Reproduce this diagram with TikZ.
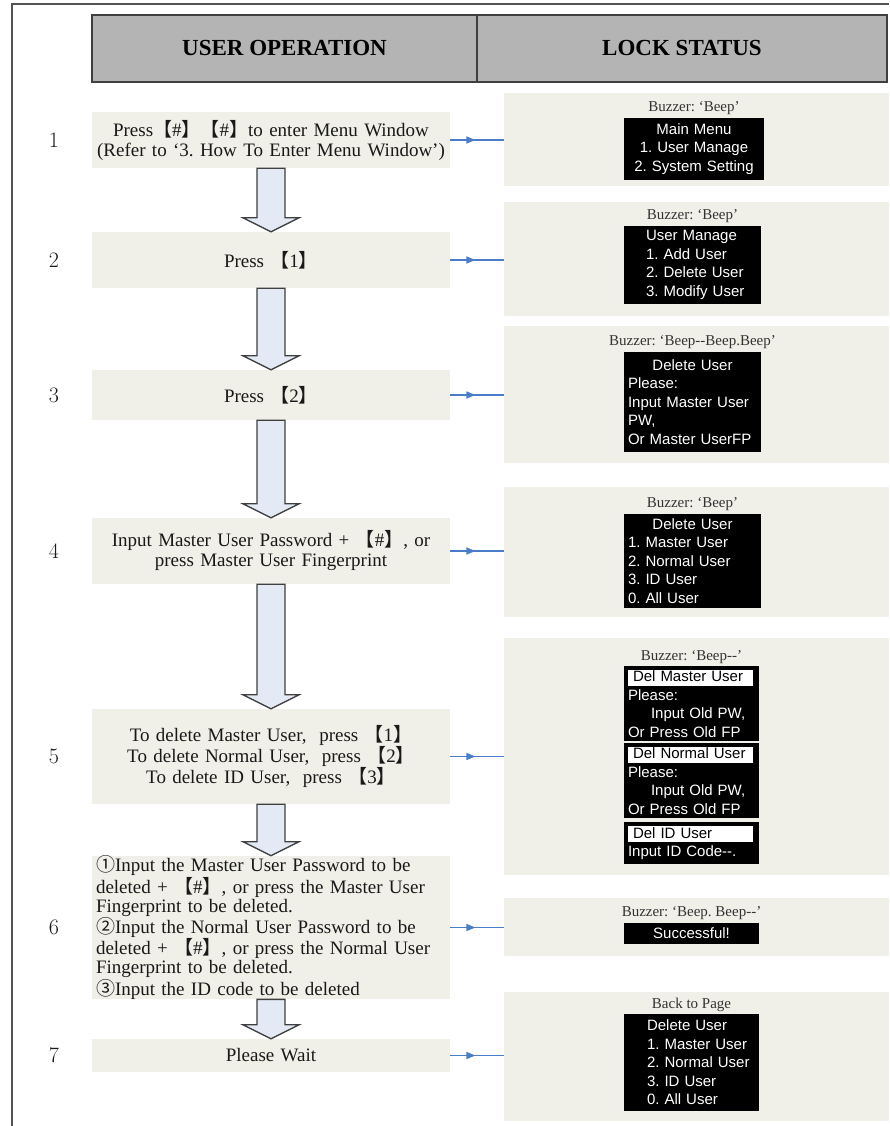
\documentclass[tikz,border=0pt]{standalone}
\usepackage{fontspec}
\usetikzlibrary{positioning,calc,arrows.meta,decorations.markings}
\newfontfamily\opfont{Liberation Serif}
\newfontfamily\lcdfont{Liberation Sans}
\newfontfamily\cjk{Noto Sans CJK SC}
\newcommand\lbk{{\cjk 【}}
\newcommand\rbk{{\cjk 】}}
\newcommand\lcdtitle[1]{{\setlength\fboxsep{0pt}\colorbox{white}{\makebox[125pt][l]{\color{black}\hspace*{5pt}#1\rule[-4pt]{0pt}{16pt}}}}}
\definecolor{panelfill}{HTML}{F0F0E8}
\definecolor{hdgray}{HTML}{B4B4B4}
\definecolor{edgegray}{HTML}{3F3F3F}
\definecolor{arrowfill}{HTML}{E3EAF6}
\definecolor{linkblue}{HTML}{4A7CC9}
\frenchspacing
\newcommand\flowarrow[2]{%
  \draw[bigarrow] ($(#1.south)+(-14,0)$) -- ($(#2.north)+(-14,-14)$)
    -- ($(#2.north)+(-28,-14)$) -- (#2.north) -- ($(#2.north)+(28,-14)$)
    -- ($(#2.north)+(14,-14)$) -- ($(#1.south)+(14,0)$) -- cycle;}
\tikzset{
  panel/.style={fill=panelfill, draw=none, inner sep=0pt},
  opbox/.style={panel, minimum width=358pt, text width=358pt, align=center,
    text=black!90, font=\opfont\fontsize{19}{20}\selectfont},
  stbox/.style={panel, minimum width=385pt},
  hdbox/.style={fill=hdgray, draw=edgegray, line width=1.5pt, minimum height=67pt,
    font=\opfont\bfseries\fontsize{23}{26}\selectfont},
  stepno/.style={font=\fontsize{22}{24}\selectfont, text=black!90},
  buzz/.style={font=\opfont\fontsize{15}{17}\selectfont, text=black!80, inner sep=1pt},
  lcd/.style={fill=black, text=white, inner ysep=0pt, inner xsep=4pt,
    font=\lcdfont\fontsize{15}{18.5}\selectfont},
  lcdc/.style={lcd, align=center},
  lcdl/.style={lcd, align=left},
  bigarrow/.style={fill=arrowfill, draw=edgegray, line width=1.3pt, line join=miter},
  link/.style={draw=linkblue, line width=1.5pt, postaction={decorate},
    decoration={markings, mark=at position 0.47 with {\arrow{Triangle[length=9pt,width=7pt]}}}},
  frame/.style={draw=edgegray!90, line width=1.6pt},
}
\begin{document}
\begin{tikzpicture}[x=1pt, y=-1pt]
  \useasboundingbox (0,0) rectangle (889,1126);
  \draw[frame] (12,1126) -- (12,4) -- (889,4);
  \node[hdbox, minimum width=385pt] (hdop) at (284.5,48.5) {USER OPERATION};
  \node[hdbox, minimum width=410pt] (hdst) at (682,48.5) {LOCK STATUS};

  \foreach \i/\y in {1/140,2/260,3/395,4/551,5/756.5,6/927.5,7/1055.5}
    \node[stepno] (n\i) at (54,\y) {\i};

  \node[opbox, minimum height=56pt] (op1) at (271,140)
    {Press\lbk\#\rbk\lbk\#\rbk to enter Menu Window\\(Refer to ‘3. How To Enter Menu Window’)};
  \node[opbox, minimum height=56pt] (op2) at (271,260) {Press \lbk1\rbk};
  \node[opbox, minimum height=50pt] (op3) at (271,395) {Press \lbk2\rbk};
  \node[opbox, minimum height=66pt] (op4) at (271,551)
    {Input Master User Password + \lbk\#\rbk, or\\press Master User Fingerprint};
  \node[opbox, minimum height=95pt] (op5) at (271,756.5)
    {To delete Master User,\ \ press \lbk1\rbk\\To delete Normal User,\ \ press \lbk2\rbk\\To delete ID User,\ \ press \lbk3\rbk};
  \node[opbox, minimum height=137pt, align=left, text width=350pt, inner xsep=4pt,
    font=\opfont\fontsize{19}{19.3}\selectfont] (op6) at (271,927.5)
    {{\cjk ①}Input the Master User Password to be\\
     deleted + \lbk\#\rbk, or press the Master User\\
     Fingerprint to be deleted.\\
     {\cjk ②}Input the Normal User Password to be\\
     deleted + \lbk\#\rbk, or press the Normal User\\
     Fingerprint to be deleted.\\
     {\cjk ③}Input the ID code to be deleted};
  \node[opbox, minimum height=33pt] (op7) at (271,1055.5) {Please Wait};

  \node[stbox, minimum height=93pt] (st1) at (696.5,139.5) {};
  \node[stbox, minimum height=114pt] (st2) at (696.5,259) {};
  \node[stbox, minimum height=137pt] (st3) at (696.5,394.5) {};
  \node[stbox, minimum height=130pt] (st4) at (696.5,552) {};
  \node[stbox, minimum height=237pt] (st5) at (696.5,756.5) {};
  \node[stbox, minimum height=58pt] (st6) at (696.5,927) {};
  \node[stbox, minimum height=129pt] (st7) at (696.5,1056.5) {};

  \node[lcdc, minimum width=140pt, minimum height=62pt, text width=132pt] (scr1) at (694,149)
    {Main Menu\\1. User Manage\\2. System Setting};
  \node[lcdl, minimum width=137pt, minimum height=78pt, text width=129pt] (scr2) at (692.5,265)
    {\leftskip=18pt\relax User Manage\\1. Add User\\2. Delete User\\3. Modify User\par};
  \node[lcdl, minimum width=137pt, minimum height=100pt, text width=129pt] (scr3) at (692.5,402)
    {\makebox[\hsize]{Delete User}\\Please:\\Input Master User\\PW,\\Or Master UserFP};
  \node[lcdl, minimum width=137pt, minimum height=94pt, text width=129pt] (scr4) at (692.5,561)
    {\makebox[\hsize]{Delete User}\\1. Master User\\2. Normal User\\3. ID User\\0. All User};
  \node[lcdl, minimum width=135pt, minimum height=75pt, text width=127pt] (scr5a) at (691.5,703.5)
    {\lcdtitle{Del Master User}\\Please:\\\hspace*{23pt}Input Old PW,\\Or Press Old FP};
  \node[lcdl, minimum width=135pt, minimum height=75pt, text width=127pt] (scr5b) at (691.5,780.5)
    {\lcdtitle{Del Normal User}\\Please:\\\hspace*{23pt}Input Old PW,\\Or Press Old FP};
  \node[lcdl, minimum width=135pt, minimum height=42pt, text width=127pt] (scr5c) at (691.5,843)
    {\lcdtitle{Del ID User}\\Input ID Code{-}{-}.};
  \node[lcdc, minimum width=135pt, minimum height=21pt, text width=127pt] (scr6) at (691.5,933.5)
    {Successful!};
  \node[lcdl, minimum width=135pt, minimum height=97pt, text width=127pt] (scr7) at (691.5,1062.5)
    {\leftskip=19pt\relax Delete User\\1. Master User\\2. Normal User\\3. ID User\\0. All User\par};

  \node[buzz, above=2pt of scr1] (bz1) {Buzzer: ‘Beep’};
  \node[buzz, above=2pt of scr2] (bz2) {Buzzer: ‘Beep’};
  \node[buzz, above=2pt of scr3] (bz3) {Buzzer: ‘Beep{-}{-}Beep.Beep’};
  \node[buzz, above=2pt of scr4] (bz4) {Buzzer: ‘Beep’};
  \node[buzz, above=1pt of scr5a] (bz5) {Buzzer: ‘Beep{-}{-}’};
  \node[buzz, above=2pt of scr6] (bz6) {Buzzer: ‘Beep. Beep{-}{-}’};
  \node[buzz, above=1pt of scr7] (bz7) {Back to Page};

  \flowarrow{op1}{op2}
  \flowarrow{op2}{op3}
  \flowarrow{op3}{op4}
  \flowarrow{op4}{op5}
  \flowarrow{op5}{op6}
  \flowarrow{op6}{op7}

  \begin{scope}
    \draw[link] (op1.east) -- (op1.east -| st1.west);
    \draw[link] (op2.east) -- (op2.east -| st2.west);
    \draw[link] (op3.east) -- (op3.east -| st3.west);
    \draw[link] (op4.east) -- (op4.east -| st4.west);
    \draw[link] (op5.east) -- (op5.east -| st5.west);
    \draw[link] (op6.east) -- (op6.east -| st6.west);
    \draw[link] (op7.east) -- (op7.east -| st7.west);
  \end{scope}
\end{tikzpicture}
\end{document}
